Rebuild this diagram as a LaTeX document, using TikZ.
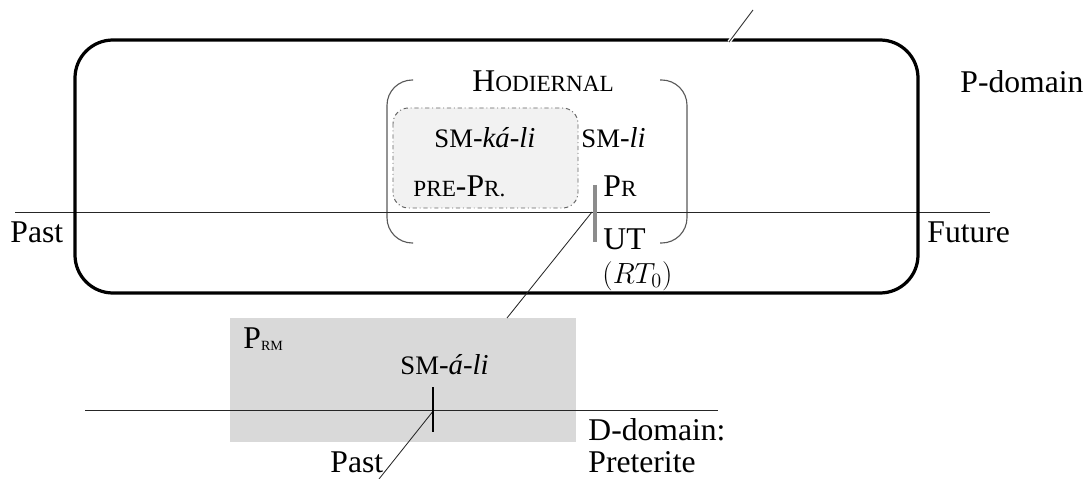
\documentclass[tikz,border=0pt]{standalone}
\usepackage{fontspec}
\setmainfont{Liberation Serif}
\usetikzlibrary{positioning}
\newcommand{\fsc}[1]{{\fontsize{16.5}{19}\selectfont #1}}
\newcommand{\smk}{{\fontsize{19}{22}\selectfont SM}}
\newcommand{\subsc}[1]{\raisebox{-1.5pt}{\fontsize{10}{11}\selectfont #1}}

\begin{document}
\begin{tikzpicture}[x=0.025cm, y=-0.025cm, semithick,
        every node/.style={inner sep=0pt, font=\fontsize{22.5}{26}\selectfont},
        smlabel/.style={font=\fontsize{20.5}{24}\selectfont},
        pdomainbox/.style={line width=2.3pt, rounded corners=27pt},
        timeline/.style={line width=0.6pt, black!85},
        paren/.style={line width=0.8pt, black!65, rounded corners=18pt},
        hodbox/.style={fill=gray!10, draw=black!60, line width=0.7pt, dash dot, rounded corners=11pt},
        remote/.style={fill=black!15}]

        \useasboundingbox (0,0) rectangle (1088,479);

        \coordinate (pl) at (15,212);
        \coordinate (pr) at (990,212);
        \coordinate (dl) at (85,410);
        \coordinate (dr) at (718,410);
        \coordinate (ut) at (592,212);
        \coordinate (dt) at (434,410);
        \coordinate (low) at (379,479);
        \coordinate (gtop) at (507,318);
        \coordinate (ptop) at (729,42);
        \coordinate (up) at (753,10);

        \fill[remote] (230,318) rectangle (576,442);
        \draw[hodbox] (393,108) rectangle (578,208);
        \draw[paren] (413,80) -- (387,80) -- (387,243) -- (413,243);
        \draw[paren] (660,80) -- (687,80) -- (687,243) -- (660,243);

        \draw[timeline] (pl) -- (pr);
        \draw[timeline] (dl) -- (dr);
        \draw[pdomainbox] (75,40) rectangle (918,293);

        \draw[timeline] (dt) -- (low)
                        (gtop) -- (ut);
        \draw[timeline, preaction={draw=white, line width=2.5pt}] (ptop) -- (up);

        \draw[line width=2.2pt, black!45] (595,185) -- (595,242);
        \draw[line width=1.5pt] (433,387) -- (433,432);

        \node[anchor=base west] (pdom)   at (960,93)  {P-domain};
        \node[anchor=base west] (ppast)  at (10,242)  {Past};
        \node[anchor=base west] (pfut)   at (927,242) {Future};
        \node[anchor=base west] (hod)    at (472,92)  {H\fsc{ODIERNAL}};
        \node[smlabel, anchor=base west] (kali) at (434,148) {\smk-\textit{ká-li}};
        \node[smlabel, anchor=base west] (li)   at (581,148) {\smk-\textit{li}};
        \node[anchor=base west] (prepr)  at (413,197) {\fsc{PRE}-P\fsc{R.}};
        \node[anchor=base west] (pr)     at (603,197) {P\fsc{R}};
        \node[anchor=base west] (uttext) at (603,249) {UT};
        \node[anchor=base west] (rt)     at (602,283) {$(RT_0)$};
        \node[anchor=base west] (prm)    at (243,348) {P\subsc{RM}};
        \node[smlabel, anchor=base west] (ali)  at (400,374) {\smk-\textit{á-li}};
        \node[anchor=base west] (dpast)  at (330,472) {Past};
        \node[anchor=base west] (ddom)   at (588,440) {D-domain:};
        \node[below=23pt of ddom.base west, anchor=base west] (pret) {Preterite};

\end{tikzpicture}
\end{document}
